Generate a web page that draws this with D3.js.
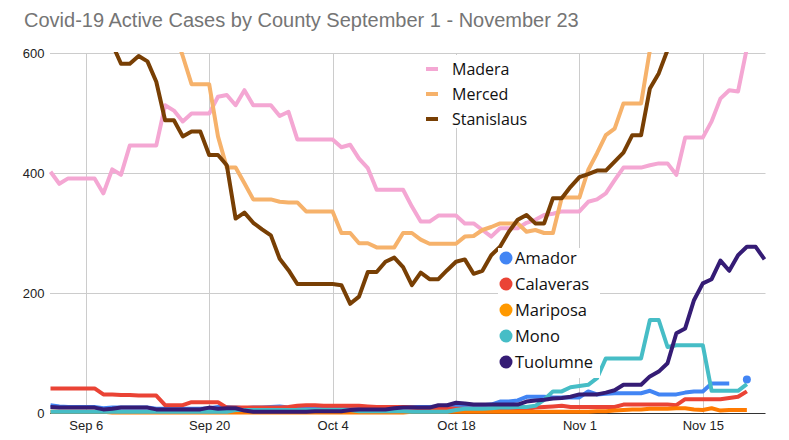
<!DOCTYPE html>
<html>
<head>
<meta charset="utf-8">
<script src="https://cdn.jsdelivr.net/npm/d3@7"></script>
<style>
  body { margin: 0; background: #fff; }
  svg { display: block; }
</style>
</head>
<body>
<script>
// daily points, Sep 2 .. Nov 22 2020
var startDay = new Date(2020, 8, 2);
var endDay = new Date(2020, 10, 22);
var days = d3.timeDay.range(startDay, d3.timeDay.offset(endDay, 1));

var tickDays = [new Date(2020, 8, 6), new Date(2020, 8, 20), new Date(2020, 9, 4),
                new Date(2020, 9, 18), new Date(2020, 10, 1), new Date(2020, 10, 15)];
var yTicks = [0, 200, 400, 600];

var amador = [13, 11, 10, 10, 10, 10, 8, 9, 9, 9, 9, 9, 7, 7, 7, 7, 7, 7, 8, 10,
  10, 9, 8, 9, 9, 10, 11, 9, 8, 8, 8, 8, 8, 8, 8, 8, 8, 8, 8, 9,
  10, 10, 10, 10, 11, 12, 12, 12, 12, 13, 14, 19, 19, 21, 27, 27, 27, 26, 26, 26,
  26, 36, 31, 32, 33, 33, 33, 33, 37, 31, 31, 31, 34, 36, 36, 49, 49, 49, null, 56,
  null, null];
var calaveras = [41, 41, 41, 41, 41, 41, 31, 31, 30, 30, 29, 29, 29, 13, 13, 13, 18, 18, 18, 18,
  9, 9, 9, 9, 9, 9, 9, 10, 12, 13, 13, 12, 12, 12, 12, 12, 11, 10, 10, 10,
  10, 9, 8, 8, 8, 8, 7, 7, 7, 7, 7, 7, 7, 7, 7, 9, 10, 11, 12, 10,
  10, 10, 10, 10, 10, 14, 14, 14, 14, 14, 14, 13, 23, 23, 23, 23, 23, 25, 27, 36,
  null, null];
var madera = [402, 382, 391, 391, 391, 391, 366, 406, 397, 446, 446, 446, 446, 513, 504, 486, 499, 499, 499, 527,
  530, 513, 538, 513, 513, 513, 495, 502, 456, 456, 456, 456, 456, 443, 447, 424, 408, 372, 372, 372,
  372, 344, 319, 319, 329, 329, 329, 316, 316, 305, 294, 308, 308, 308, 317, 322, 330, 332, 336, 336,
  336, 352, 356, 366, 388, 409, 409, 409, 413, 416, 416, 397, 459, 459, 459, 486, 524, 538, 536, 608,
  640, 665];
var mariposa = [2, 2, 2, 2, 2, 2, 2, 1, 1, 1, 1, 1, 1, 1, 1, 1, 1, 1, 1, 1,
  1, 1, 1, 1, 1, 1, 1, 1, 1, 1, 1, 1, 1, 1, 1, 1, 1, 1, 1, 1,
  1, 2, 2, 2, 2, 2, 2, 2, 2, 2, 2, 2, 2, 2, 2, 2, 2, 2, 2, 2,
  2, 2, 3, 3, 4, 5, 6, 6, 7, 7, 7, 8, 8, 6, 5, 8, 4, 5, 5, 5,
  null, null];
var merced = [700, 705, 700, 695, 690, 690, 685, 680, 680, 675, 670, 665, 660, 650, 640, 595, 548, 548, 548, 461,
  409, 409, 383, 356, 356, 356, 352, 351, 351, 336, 336, 336, 336, 300, 300, 283, 283, 276, 276, 276,
  300, 300, 289, 282, 282, 282, 282, 294, 295, 305, 310, 316, 316, 316, 302, 305, 300, 300, 359, 359,
  359, 405, 433, 463, 474, 516, 516, 516, 605, 650, 680, 700, 720, 740, 760, 780, 800, 820, 830, 850,
  860, 870];
var mono = [2, 2, 2, 2, 2, 2, 2, 2, 2, 2, 2, 2, 2, 2, 2, 2, 2, 2, 2, 2,
  2, 5, 5, 5, 5, 5, 5, 5, 5, 5, 5, 5, 5, 5, 5, 3, 3, 3, 3, 3,
  3, 2, 2, 2, 2, 2, 5, 7, 7, 7, 8, 9, 9, 10, 10, 12, 22, 36, 36, 43,
  45, 47, 58, 91, 91, 91, 91, 91, 155, 155, 110, 113, 113, 113, 113, 37, 37, 37, 37, 48,
  null, null];
var stanislaus = [720, 710, 700, 690, 680, 660, 640, 615, 582, 582, 595, 586, 552, 488, 488, 461, 469, 469, 430, 430,
  413, 324, 334, 317, 306, 296, 257, 238, 215, 215, 215, 215, 215, 213, 182, 194, 235, 235, 252, 259,
  243, 213, 234, 223, 223, 238, 252, 256, 232, 237, 263, 277, 302, 322, 330, 316, 316, 358, 358, 377,
  393, 398, 404, 404, 419, 434, 463, 463, 541, 566, 605, 640, 680, 700, 720, 740, 760, 780, 800, 820,
  830, 840];
var tuolumne = [10, 9, 9, 9, 9, 9, 6, 7, 9, 9, 9, 9, 6, 6, 6, 6, 6, 6, 9, 7,
  8, 8, 4, 2, 2, 2, 2, 2, 2, 2, 3, 3, 3, 3, 5, 6, 6, 6, 6, 8,
  9, 9, 9, 9, 13, 13, 17, 16, 14, 14, 14, 14, 14, 14, 19, 21, 22, 24, 25, 27,
  31, 31, 31, 34, 38, 47, 47, 47, 61, 69, 83, 133, 141, 188, 216, 223, 254, 237, 263, 277,
  277, 256];

var series = [
  { name: 'Amador', values: amador, color: '#4285f4' },
  { name: 'Calaveras', values: calaveras, color: '#ea4335' },
  { name: 'Madera', values: madera, color: '#f4a7d3' },
  { name: 'Mariposa', values: mariposa, color: '#ff7a00' },
  { name: 'Merced', values: merced, color: '#f6b26b' },
  { name: 'Mono', values: mono, color: '#46bdc6' },
  { name: 'Stanislaus', values: stanislaus, color: '#783f04' },
  { name: 'Tuolumne', values: tuolumne, color: '#351c75' }
];
var topLegend = ['Madera', 'Merced', 'Stanislaus'];
var bottomLegend = ['Amador', 'Calaveras', 'Mariposa', 'Mono', 'Tuolumne'];
var legendDot = { Mariposa: '#ff9900' };

var width = 789, height = 440;
var plotLeft = 50.5, plotRight = 764.5, plotTop = 53, plotBottom = 413;

var svg = d3.select('body').append('svg').attr('width', width).attr('height', height);

var x = d3.scaleTime().domain([startDay, endDay]).range([plotLeft, plotRight]);
var y = d3.scaleLinear().domain([0, 600]).range([plotBottom, plotTop]);

svg.append('text')
  .attr('x', 24).attr('y', 27)
  .attr('font-family', 'Liberation Sans, Arial, sans-serif')
  .attr('font-size', 20)
  .attr('fill', '#757575')
  .text('Covid-19 Active Cases by County September 1 - November 23');

// grid
svg.append('g')
  .selectAll('line')
  .data(yTicks.filter(function (d) { return d > 0; }))
  .enter().append('line')
  .attr('x1', plotLeft - 0.5).attr('x2', plotRight + 1)
  .attr('y1', function (d) { return Math.round(y(d)) + 0.5; })
  .attr('y2', function (d) { return Math.round(y(d)) + 0.5; })
  .attr('stroke', '#cccccc');

svg.append('g')
  .selectAll('line')
  .data(tickDays)
  .enter().append('line')
  .attr('x1', function (d) { return Math.round(x(d)) + 0.5; })
  .attr('x2', function (d) { return Math.round(x(d)) + 0.5; })
  .attr('y1', plotTop).attr('y2', plotBottom)
  .attr('stroke', '#cccccc');

var yAxis = svg.append('g')
  .attr('transform', 'translate(' + (plotLeft - 6) + ',0)')
  .call(d3.axisLeft(y).tickValues(yTicks).tickSize(0).tickPadding(0));
yAxis.select('.domain').remove();
yAxis.selectAll('text')
  .attr('font-family', 'Liberation Sans, Arial, sans-serif')
  .attr('font-size', 13)
  .attr('fill', '#222');

var xAxis = svg.append('g')
  .attr('transform', 'translate(0,' + plotBottom + ')')
  .call(d3.axisBottom(x).tickValues(tickDays).tickFormat(d3.timeFormat('%b %-d')).tickSize(0).tickPadding(8));
xAxis.select('.domain').remove();
xAxis.selectAll('text')
  .attr('font-family', 'Liberation Sans, Arial, sans-serif')
  .attr('font-size', 13)
  .attr('fill', '#222');

// baseline
svg.append('line')
  .attr('x1', plotLeft - 0.5).attr('x2', plotRight + 1)
  .attr('y1', plotBottom + 0.5).attr('y2', plotBottom + 0.5)
  .attr('stroke', '#333');

svg.append('clipPath').attr('id', 'plot')
  .append('rect')
  .attr('x', plotLeft - 3).attr('y', plotTop - 1)
  .attr('width', plotRight - plotLeft + 6).attr('height', plotBottom - plotTop + 10);

var line = d3.line()
  .defined(function (d) { return d != null; })
  .x(function (d, i) { return x(days[i]); })
  .y(function (d) { return y(d); });

var plot = svg.append('g').attr('clip-path', 'url(#plot)');

series.forEach(function (s) {
  plot.append('path')
    .attr('d', line(s.values))
    .attr('fill', 'none')
    .attr('stroke', s.color)
    .attr('stroke-width', 4)
    .attr('stroke-linejoin', 'round');

  // isolated points get a dot
  s.values.forEach(function (v, i) {
    if (v == null) return;
    var prev = i > 0 ? s.values[i - 1] : null;
    var next = i < s.values.length - 1 ? s.values[i + 1] : null;
    if (prev == null && next == null) {
      plot.append('circle')
        .attr('cx', x(days[i])).attr('cy', y(v)).attr('r', 4)
        .attr('fill', s.color);
    }
  });
});

function colorOf(name) {
  return series.find(function (s) { return s.name === name; }).color;
}

// legends sit on white boxes over the plot
svg.append('rect').attr('x', 418).attr('y', 55).attr('width', 125).attr('height', 73).attr('fill', '#fff');
svg.append('rect').attr('x', 498).attr('y', 248).attr('width', 102).attr('height', 130).attr('fill', '#fff');

var tl = svg.append('g').selectAll('g').data(topLegend).enter().append('g')
  .attr('transform', function (d, i) { return 'translate(0,' + (69 + i * 25) + ')'; });
tl.append('line')
  .attr('x1', 426).attr('x2', 438).attr('y1', 0).attr('y2', 0)
  .attr('stroke', function (d) { return colorOf(d); })
  .attr('stroke-width', 4);
tl.append('text')
  .attr('x', 452).attr('y', 5.5)
  .attr('font-family', 'Open Sans, sans-serif')
  .attr('font-size', 16)
  .attr('fill', '#111')
  .text(function (d) { return d; });

var bl = svg.append('g').selectAll('g').data(bottomLegend).enter().append('g')
  .attr('transform', function (d, i) { return 'translate(0,' + (258 + i * 26) + ')'; });
bl.append('circle')
  .attr('cx', 506).attr('cy', 0).attr('r', 6.5)
  .attr('fill', function (d) { return legendDot[d] || colorOf(d); });
bl.append('text')
  .attr('x', 515).attr('y', 5.5)
  .attr('font-family', 'Open Sans, sans-serif')
  .attr('font-size', 16.5)
  .attr('fill', '#111')
  .text(function (d) { return d; });
</script>
</body>
</html>
